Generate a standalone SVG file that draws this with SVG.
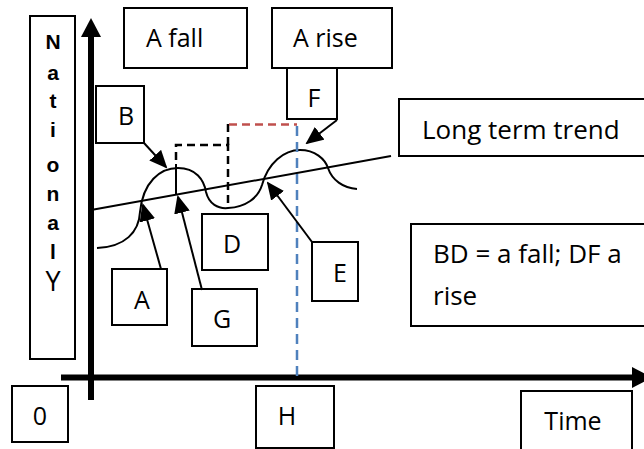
<svg xmlns="http://www.w3.org/2000/svg" width="644" height="449" viewBox="0 0 644 449">
<style>
.box{fill:#fff;stroke:#000;stroke-width:2}
.t{font-family:"Open Sans","Liberation Sans",sans-serif;font-size:25px;fill:#000}
.c{text-anchor:middle}
.v{font-family:"Liberation Sans",Arial,sans-serif;font-size:21px;font-weight:bold;text-anchor:middle;fill:#000}
.ln{fill:none;stroke:#000;stroke-width:2}
.arr{fill:none;stroke:#000;stroke-width:2;marker-end:url(#ah)}
</style>
<defs>
<marker id="ah" markerWidth="9" markerHeight="8" refX="8" refY="4" orient="auto" markerUnits="strokeWidth">
<path d="M0,0 L9,4 L0,8 Z" fill="#000"/>
</marker>
</defs>
<rect width="644" height="449" fill="#fff"/>

<g id="axes">
<line x1="91" y1="400" x2="91" y2="34" stroke="#000" stroke-width="6"/>
<path d="M81,37 L91,18 L101,37 Z" fill="#000"/>
<line x1="61" y1="377.5" x2="634" y2="377.5" stroke="#000" stroke-width="6"/>
<path d="M632,367 L652,377.5 L632,388 Z" fill="#000"/>
</g>

<g id="node-national-y">
<rect class="box" x="30" y="16" width="45" height="343"/>
<text class="v" x="53" y="49">N</text>
<text class="v" x="53" y="80">a</text>
<text class="v" x="53" y="108">t</text>
<text class="v" x="53" y="137">i</text>
<text class="v" x="53" y="172">o</text>
<text class="v" x="53" y="201">n</text>
<text class="v" x="53" y="230">a</text>
<text class="v" x="53" y="259">l</text>
<text class="t c" x="53" y="291" style="font-size:27px">Y</text>
</g>

<g id="node-a-fall">
<rect class="box" x="124" y="8" width="123" height="60"/>
<text class="t" x="146" y="47">A fall</text>
</g>
<g id="node-a-rise">
<rect class="box" x="272" y="8" width="120" height="60"/>
<text class="t" x="293" y="47">A rise</text>
</g>
<g id="node-f">
<rect class="box" x="287" y="68" width="50" height="51"/>
<text class="t c" x="314" y="107">F</text>
</g>
<g id="node-long-term-trend">
<rect class="box" x="399" y="99" width="252" height="57"/>
<text class="t" x="422" y="139" style="font-size:26px">Long term trend</text>
</g>
<g id="node-b">
<rect class="box" x="96" y="86" width="48" height="57"/>
<text class="t c" x="126" y="125">B</text>
</g>
<g id="node-d">
<rect class="box" x="202" y="214" width="66" height="56"/>
<text class="t c" x="232" y="253">D</text>
</g>
<g id="node-a">
<rect class="box" x="112" y="269" width="55" height="56"/>
<text class="t c" x="142" y="309">A</text>
</g>
<g id="node-g">
<rect class="box" x="192" y="289" width="65" height="57"/>
<text class="t c" x="222" y="328">G</text>
</g>
<g id="node-e">
<rect class="box" x="312" y="242" width="46" height="59"/>
<text class="t c" x="340" y="282">E</text>
</g>
<g id="node-bd">
<rect class="box" x="411" y="224" width="240" height="102"/>
<text class="t" x="433" y="263" style="font-size:26px">BD = a fall; DF a</text>
<text class="t" x="433" y="305" style="font-size:26px">rise</text>
</g>
<g id="node-0">
<rect class="box" x="12" y="386" width="56" height="56"/>
<text class="t c" x="40" y="425">0</text>
</g>
<g id="node-h">
<rect class="box" x="256" y="386" width="78" height="62"/>
<text class="t c" x="287" y="425">H</text>
</g>
<g id="node-time">
<rect class="box" x="521" y="391" width="111" height="64"/>
<text class="t c" x="573" y="430">Time</text>
</g>

<g id="connectors">
<line class="ln" x1="91" y1="210" x2="391" y2="156"/>
<path class="ln" d="M97,248 C125,247 139,232 140,212 C143,182 160,168 178,168 C196,168 204,180 206,192 C209,204 218,209 228,208 C246,207 258,198 262,185 C268,163 284,150 300,150 C315,150 325,159 328,168 C332,180 343,188 357,189"/>
<line class="ln" x1="176" y1="164" x2="176" y2="195"/>
<path d="M176,160 V145 H228 V208" fill="none" stroke="#000" stroke-width="2.5" stroke-dasharray="8,5"/>
<line x1="228" y1="124" x2="228" y2="145" stroke="#000" stroke-width="2.5" stroke-dasharray="8,5"/>
<line x1="229" y1="124.5" x2="297" y2="124.5" stroke="#c0504d" stroke-width="2.5" stroke-dasharray="8,5"/>
<line x1="297" y1="126" x2="297" y2="376" stroke="#4f81bd" stroke-width="2.5" stroke-dasharray="10,6"/>
<line class="arr" x1="144" y1="143" x2="166" y2="167"/>
<line class="arr" x1="337" y1="120" x2="307" y2="143"/>
<line class="arr" x1="161" y1="269" x2="143" y2="205"/>
<line class="arr" x1="202" y1="290" x2="178" y2="197"/>
<line class="arr" x1="312" y1="242" x2="268" y2="183"/>
</g>
</svg>
